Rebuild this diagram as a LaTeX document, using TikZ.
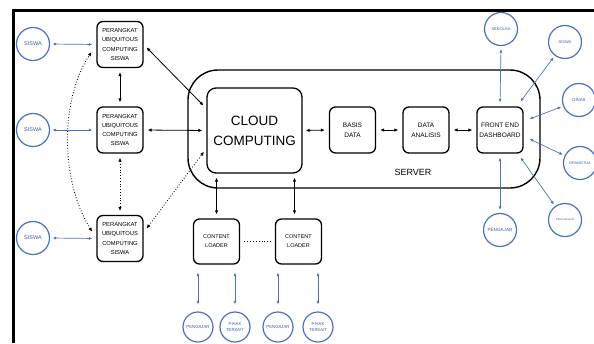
\documentclass[tikz,border=0pt]{standalone}
\usepackage{fontspec}
\setmainfont{Liberation Sans}
\usetikzlibrary{arrows.meta}
\definecolor{bl}{HTML}{4A70C4}
\definecolor{blt}{HTML}{3A5BA8}
\begin{document}
\begin{tikzpicture}[x=1pt,y=-1pt,
 box/.style={draw=black,line width=1.3pt,rounded corners=6pt,minimum width=46pt,minimum height=46pt,inner sep=0pt,align=center,font=\fontsize{5.8}{9.2}\selectfont},
 circ/.style={circle,draw=bl,line width=1.2pt,minimum size=33pt,inner sep=0pt,align=center,text=blt},
 barr/.style={draw=bl,line width=0.7pt,{Latex[length=3.5pt,width=3pt]}-{Latex[length=3.5pt,width=3pt]}},
 karr/.style={draw=black,line width=0.8pt,{Latex[length=4pt,width=3.5pt]}-{Latex[length=4pt,width=3.5pt]}},
 dotarr/.style={karr,dotted,line width=0.9pt},
]
\useasboundingbox (0,0) rectangle (594,343);
\draw[line width=3pt] (13,343) -- (13,10) -- (594,10);

% server
\node[draw,line width=1.4pt,rounded corners=30pt,minimum width=352pt,minimum height=118pt] (server) at (364,129) {};
\node[font=\fontsize{9}{10}\selectfont] (srvlabel) at (413,172) {SERVER};

% left column
\node[box] (p1) at (120,44.5) {PERANGKAT\\UBIQUITOUS\\COMPUTING\\SISWA};
\node[box] (p2) at (120,130) {PERANGKAT\\UBIQUITOUS\\COMPUTING\\SISWA};
\node[box] (p3) at (120,238.5) {PERANGKAT\\UBIQUITOUS\\COMPUTING\\SISWA};

\node[circ,font=\fontsize{5.5}{6}\selectfont] (s1) at (33,44) {SISWA};
\node[circ,font=\fontsize{5.5}{6}\selectfont] (s2) at (33,130) {SISWA};
\node[circ,font=\fontsize{5.5}{6}\selectfont] (s3) at (33,238) {SISWA};

% server contents
\node[box,minimum width=95pt,minimum height=85pt,rounded corners=9pt,font=\fontsize{13.5}{20}\selectfont] (cloud) at (254.5,130.5) {CLOUD\\COMPUTING};
\node[box,font=\fontsize{6.5}{10}\selectfont] (bd) at (352.5,130) {BASIS\\DATA};
\node[box,font=\fontsize{6.5}{10}\selectfont] (da) at (426,130) {DATA\\ANALISIS};
\node[box,font=\fontsize{6.5}{10}\selectfont] (fe) at (500,130) {FRONT END\\DASHBOARD};

% content loaders
\node[box,minimum height=45pt,font=\fontsize{5.5}{9}\selectfont] (cl1) at (216.5,241.5) {CONTENT\\LOADER};
\node[box,minimum height=45pt,font=\fontsize{5.5}{9}\selectfont] (cl2) at (298.5,241.5) {CONTENT\\LOADER};

% bottom circles
\node[circ,minimum size=30pt,font=\fontsize{4.3}{5}\selectfont] (b1) at (198,327) {PENGAJAR};
\node[circ,minimum size=30pt,font=\fontsize{4.2}{6.5}\selectfont] (b2) at (235,327) {PIHAK\\TERKAIT};
\node[circ,minimum size=30pt,font=\fontsize{4.3}{5}\selectfont] (b3) at (278,327) {PENGAJAR};
\node[circ,minimum size=30pt,font=\fontsize{4.2}{6.5}\selectfont] (b4) at (318,327) {PIHAK\\TERKAIT};

% right circles
\node[circ,font=\fontsize{4}{5}\selectfont] (sek) at (501,29) {SEKOLAH};
\node[circ,font=\fontsize{4}{5}\selectfont] (sr) at (565,42) {SISWA};
\node[circ,font=\fontsize{4.3}{5}\selectfont] (din) at (579,100) {DINAS};
\node[circ,font=\fontsize{3.8}{5}\selectfont] (ort) at (580,163) {ORANGTUA};
\node[circ,font=\fontsize{2.6}{3}\selectfont] (per) at (565,220) {PERUSAHAAN};
\node[circ,font=\fontsize{4.6}{5}\selectfont] (pg) at (500,230) {PENGAJAR};

% blue arrows left
\draw[barr,shorten <=2.5pt,shorten >=4pt] (s1.east) -- (p1.west);
\draw[barr,shorten <=2.5pt,shorten >=4pt] (s2.east) -- (p2.west);
\draw[barr,shorten <=2.5pt,shorten >=4pt] (s3.east) -- (p3.west);

% left column arrows
\draw[karr,shorten <=4pt,shorten >=4pt] (p1.south) -- (p2.north);
\draw[dotarr,shorten <=4pt,shorten >=4pt] (p2.south) -- (p3.north);
\draw[dotarr,shorten <=8pt,shorten >=9pt] (p3.west) .. controls (60,180) and (60,100) .. (p1.west);

% to cloud
\draw[karr,shorten <=4pt,shorten >=4pt] (p1.east) -- ([yshift=22pt]cloud.west);
\draw[karr,shorten <=4pt,shorten >=4pt] (p2.east) -- (cloud.west);
\draw[dotarr,shorten <=5pt,shorten >=4pt] ([yshift=6pt]p3.east) -- ([yshift=-18pt]cloud.west);

% server chain
\draw[karr,shorten <=3pt,shorten >=4pt] (cloud.east) -- (bd.west);
\draw[karr,shorten <=4pt,shorten >=4pt] (bd.east) -- (da.west);
\draw[karr,shorten <=4pt,shorten >=4pt] (da.east) -- (fe.west);

% cloud to content loaders
\draw[karr,shorten <=4pt,shorten >=4pt] (cl1.north) -- (cl1.north |- cloud.south);
\draw[karr,shorten <=4pt,shorten >=4pt] ([xshift=-4pt]cl2.north) -- ([xshift=-4pt]cl2.north |- cloud.south);
\draw[dotted,line width=0.9pt,shorten <=4pt,shorten >=4pt] (cl1.east) -- (cl2.west);

% content loaders to bottom circles
\draw[barr,shorten <=8pt,shorten >=7pt] (b1.north |- cl1.south) -- (b1.north);
\draw[barr,shorten <=8pt,shorten >=7pt] (b2.north |- cl1.south) -- (b2.north);
\draw[barr,shorten <=8pt,shorten >=7pt] (b3.north |- cl2.south) -- (b3.north);
\draw[barr,shorten <=8pt,shorten >=7pt] (b4.north |- cl2.south) -- (b4.north);

% front end to right circles
\draw[barr,shorten <=4pt,shorten >=3pt] (fe.north) -- (sek.south);
\draw[barr,shorten >=2pt] ([xshift=-3pt,yshift=5pt]fe.north east) -- (sr);
\draw[barr,shorten >=2pt] ([xshift=6pt,yshift=11pt]fe.east) -- (din);
\draw[barr,shorten >=2pt] ([xshift=6pt,yshift=-9pt]fe.east) -- (ort);
\draw[barr,shorten >=2pt] ([xshift=-3pt,yshift=-4pt]fe.south east) -- (per);
\draw[barr,shorten <=4pt,shorten >=3pt] (fe.south) -- (pg.north);
\end{tikzpicture}
\end{document}
